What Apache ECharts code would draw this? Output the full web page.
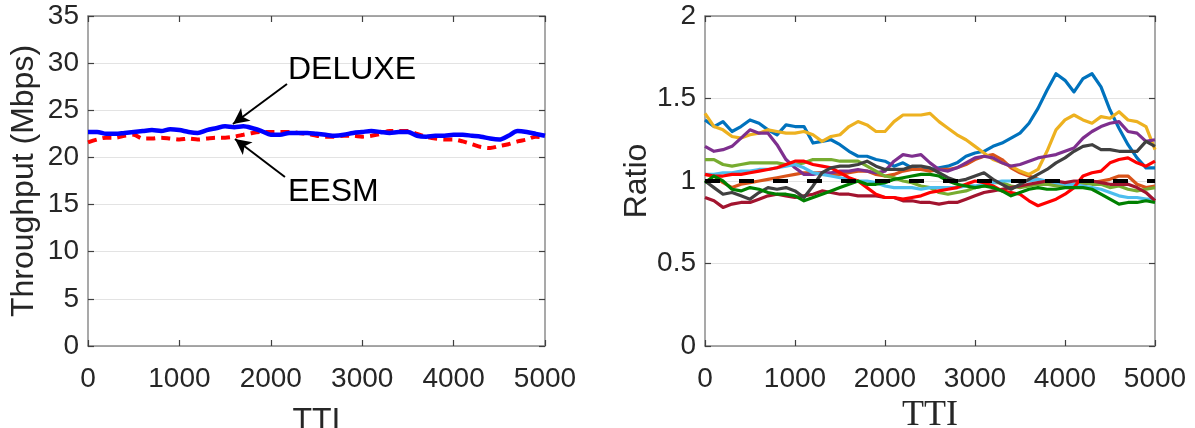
<!DOCTYPE html>
<html>
<head>
<meta charset="utf-8">
<script src="https://cdn.jsdelivr.net/npm/echarts@6/dist/echarts.min.js"></script>
<style>
  html, body { margin: 0; padding: 0; background: #ffffff; }
  #chart { width: 1195px; height: 428px; }
</style>
</head>
<body>
<div id="chart"></div>
<script>
// Sample positions (TTI) shared by every curve
const tti = [0,100,200,300,400,500,600,700,800,900,1000,1100,1200,1300,1400,1500,1600,1700,1800,1900,
  2000,2100,2200,2300,2400,2500,2600,2700,2800,2900,3000,3100,3200,3300,3400,3500,3600,3700,3800,3900,
  4000,4100,4200,4300,4400,4500,4600,4700,4800,4900,5000];

// Left panel: throughput in Mbps
const deluxe = [22.7,22.7,22.5,22.5,22.6,22.7,22.8,22.9,22.8,23.0,22.9,22.7,22.6,22.9,23.1,23.3,23.2,23.3,23.1,22.8,
  22.4,22.4,22.6,22.6,22.6,22.5,22.4,22.3,22.4,22.6,22.7,22.8,22.7,22.6,22.7,22.7,22.3,22.2,22.3,22.3,
  22.4,22.4,22.3,22.2,22.0,21.9,22.3,22.8,22.7,22.5,22.3];
const eesm = [21.6,21.9,22.1,22.1,22.3,22.4,22.0,22.0,22.1,22.0,21.9,22.0,21.9,22.0,22.1,22.1,22.2,22.4,22.6,22.7,
  22.7,22.7,22.7,22.6,22.5,22.3,22.2,22.2,22.3,22.3,22.2,22.3,22.5,22.8,22.8,22.8,22.5,22.2,22.0,21.9,
  21.9,21.7,21.4,21.1,21.0,21.2,21.4,21.7,21.9,22.2,22.1];

// Right panel: per-user throughput ratio
const ratioBlue = [1.37,1.33,1.36,1.30,1.33,1.37,1.35,1.31,1.28,1.34,1.33,1.33,1.23,1.24,1.25,1.22,1.18,1.15,1.15,1.13,
  1.12,1.09,1.11,1.08,1.07,1.07,1.08,1.09,1.11,1.15,1.17,1.18,1.21,1.23,1.26,1.29,1.35,1.44,1.55,1.65,
  1.61,1.54,1.62,1.65,1.57,1.43,1.32,1.22,1.14,1.08,1.08];
const ratioOrange = [1.04,1.03,0.99,0.96,0.98,0.99,1.00,1.01,1.02,1.03,1.04,1.05,1.05,1.05,1.04,1.04,1.05,1.06,1.06,1.04,
  1.03,1.04,1.06,1.07,1.07,1.06,1.07,1.07,1.08,1.10,1.13,1.15,1.16,1.13,1.08,1.05,1.03,1.01,0.99,0.98,
  0.98,0.98,0.98,0.99,1.00,1.01,1.03,1.03,0.98,0.96,0.97];
const ratioYellow = [1.41,1.33,1.31,1.27,1.26,1.28,1.29,1.31,1.30,1.29,1.29,1.30,1.28,1.24,1.27,1.28,1.33,1.36,1.34,1.30,
  1.30,1.36,1.40,1.40,1.40,1.41,1.36,1.32,1.28,1.25,1.21,1.17,1.13,1.11,1.09,1.06,1.04,1.07,1.18,1.31,
  1.37,1.40,1.37,1.35,1.39,1.38,1.42,1.37,1.36,1.33,1.19];
const ratioPurple = [1.21,1.18,1.19,1.21,1.26,1.31,1.29,1.29,1.22,1.13,1.08,1.04,1.04,1.05,1.05,1.06,1.06,1.07,1.06,1.05,
  1.06,1.12,1.16,1.15,1.16,1.11,1.07,1.06,1.08,1.11,1.14,1.15,1.14,1.11,1.09,1.10,1.12,1.14,1.15,1.16,
  1.18,1.20,1.26,1.30,1.33,1.35,1.36,1.30,1.29,1.24,1.25];
const ratioLightGreen = [1.13,1.13,1.10,1.09,1.10,1.11,1.11,1.11,1.11,1.10,1.10,1.11,1.13,1.13,1.13,1.12,1.12,1.12,1.09,1.06,
  1.03,1.02,1.00,0.99,0.97,0.96,0.93,0.92,0.93,0.94,0.96,0.97,0.99,0.99,0.97,0.96,0.97,0.98,0.98,0.97,
  0.97,0.98,0.99,0.98,0.98,0.96,0.97,0.95,0.94,0.95,0.96];
const ratioLightBlue = [1.04,1.04,1.05,1.05,1.06,1.06,1.07,1.07,1.08,1.09,1.10,1.08,1.05,1.04,1.03,1.02,1.01,1.00,1.00,0.99,
  0.97,0.96,0.96,0.96,0.95,0.96,0.96,0.96,0.96,0.97,0.97,0.98,0.99,1.00,1.00,1.00,1.00,1.01,1.00,0.99,
  0.98,0.98,0.97,0.96,0.95,0.93,0.91,0.90,0.90,0.89,0.89];
const ratioMaroon = [0.90,0.88,0.84,0.86,0.87,0.87,0.89,0.91,0.92,0.91,0.90,0.91,0.92,0.94,0.93,0.92,0.92,0.91,0.91,0.91,
  0.90,0.90,0.88,0.88,0.87,0.87,0.86,0.87,0.87,0.89,0.91,0.93,0.94,0.95,0.96,0.97,0.98,0.99,1.00,1.00,
  0.99,1.00,1.00,1.00,0.99,0.98,0.98,0.98,0.96,0.93,0.88];
const ratioRed = [1.04,1.03,1.03,1.04,1.04,1.05,1.06,1.07,1.08,1.10,1.12,1.12,1.10,1.09,1.08,1.05,1.02,1.00,0.96,0.92,
  0.90,0.90,0.89,0.90,0.91,0.93,0.94,0.95,0.96,0.98,1.00,0.99,0.97,0.94,0.93,0.92,0.88,0.85,0.87,0.89,
  0.92,0.96,1.03,1.05,1.06,1.11,1.13,1.14,1.11,1.09,1.12];
const ratioGray = [1.00,0.96,0.92,0.93,0.91,0.89,0.93,0.96,0.95,0.96,0.94,0.90,0.97,1.05,1.08,1.09,1.09,1.10,1.12,1.09,
  1.07,1.07,1.07,1.09,1.09,1.08,1.05,1.02,1.00,1.01,1.03,1.05,1.01,0.98,0.95,0.98,1.01,1.04,1.07,1.11,
  1.14,1.18,1.21,1.22,1.19,1.19,1.18,1.18,1.18,1.24,1.21];
const ratioGreen = [0.99,1.03,1.00,0.95,0.94,0.96,0.95,0.93,0.92,0.92,0.91,0.88,0.90,0.92,0.94,0.96,0.98,1.00,0.98,0.98,
  0.99,1.01,1.02,1.03,1.04,1.04,1.03,1.00,0.98,0.97,0.96,0.97,0.96,0.94,0.91,0.93,0.95,0.96,0.95,0.95,
  0.96,0.96,0.96,0.95,0.92,0.89,0.86,0.87,0.87,0.88,0.87];
const reference = [1.00,1.00];
const referenceTti = [0,5000];

const ratioSeries = [
  { values: ratioBlue, color: '#0072BD' },
  { values: ratioOrange, color: '#D95319' },
  { values: ratioYellow, color: '#EDB120' },
  { values: ratioPurple, color: '#7E2F8E' },
  { values: ratioLightGreen, color: '#77AC30' },
  { values: ratioLightBlue, color: '#4DBEEE' },
  { values: ratioMaroon, color: '#A2142F' },
  { values: ratioRed, color: '#FF0000' },
  { values: ratioGray, color: '#404040' },
  { values: ratioGreen, color: '#008000' }
];

const xTicks = ['0','1000','2000','3000','4000','5000'];

const pairs = (xs, ys) => xs.map((x, i) => [x, ys[i]]);

const SANS = '"Liberation Sans", Arial, Helvetica, sans-serif';
const SERIF = '"Liberation Serif", "Times New Roman", serif';
const TICK_COLOR = '#262626';
const BOX_COLOR = '#8c8c8c';

function xAxisMain(gridIndex, name, nameFont, nameGap) {
  return {
    type: 'value', gridIndex, min: 0, max: 5000, interval: 1000,
    name, nameLocation: 'middle', nameGap,
    nameTextStyle: { fontFamily: nameFont, fontSize: nameFont === SERIF ? 36 : 32, color: TICK_COLOR },
    axisLine: { show: true, onZero: false, lineStyle: { color: BOX_COLOR, width: 1.5 } },
    axisTick: { show: true, inside: true, length: 6, lineStyle: { color: '#404040', width: 1.2 } },
    axisLabel: { fontFamily: SANS, fontSize: 28, color: TICK_COLOR, margin: 19,
      formatter: v => xTicks[Math.round(v / 1000)] },
    splitLine: { show: false }
  };
}
function xAxisMirror(gridIndex) {
  return {
    type: 'value', gridIndex, min: 0, max: 5000, interval: 1000, position: 'top',
    axisLine: { show: true, onZero: false, lineStyle: { color: BOX_COLOR, width: 1.5 } },
    axisTick: { show: true, inside: true, length: 6, lineStyle: { color: '#404040', width: 1.2 } },
    axisLabel: { show: false }, splitLine: { show: false }
  };
}
function yAxisMain(gridIndex, max, interval, name, nameGap, fmt) {
  return {
    type: 'value', gridIndex, min: 0, max, interval,
    name, nameLocation: 'middle', nameGap, nameRotate: 90,
    nameTextStyle: { fontFamily: SANS, fontSize: 32, color: TICK_COLOR },
    axisLine: { show: true, onZero: false, lineStyle: { color: BOX_COLOR, width: 1.5 } },
    axisTick: { show: true, inside: true, length: 6, lineStyle: { color: '#404040', width: 1.2 } },
    axisLabel: { fontFamily: SANS, fontSize: 28, color: TICK_COLOR, margin: 9, formatter: fmt },
    splitLine: { show: true, lineStyle: { color: '#e3e3e3', width: 1 } }
  };
}
function yAxisMirror(gridIndex, max, interval) {
  return {
    type: 'value', gridIndex, min: 0, max, interval, position: 'right',
    axisLine: { show: true, onZero: false, lineStyle: { color: BOX_COLOR, width: 1.5 } },
    axisTick: { show: true, inside: true, length: 6, lineStyle: { color: '#404040', width: 1.2 } },
    axisLabel: { show: false }, splitLine: { show: false }
  };
}

const arrowLine = (from, to) => [
  { coord: from, symbol: 'none' },
  { coord: to, symbol: 'arrow', symbolSize: [12, 16] }
];

const series = [
  {
    type: 'line', xAxisIndex: 0, yAxisIndex: 0, name: 'DELUXE',
    data: pairs(tti, deluxe), showSymbol: false, smooth: 0.3, z: 3,
    lineStyle: { color: '#0000FF', width: 4.5 },
    markLine: {
      silent: true, animation: false, label: { show: false },
      lineStyle: { color: '#000000', width: 2, type: 'solid' },
      data: [
        arrowLine([2177, 27.79], [1586, 23.55]),
        arrowLine([2155, 17.92], [1608, 21.95])
      ]
    },
    markPoint: {
      silent: true, animation: false, symbolSize: 0,
      label: { show: true, position: 'inside', align: 'left', verticalAlign: 'middle',
        fontFamily: SANS, fontSize: 32, color: '#000000' },
      data: [
        { coord: [2188, 29.27], value: 'DELUXE', label: { formatter: 'DELUXE' } },
        { coord: [2188, 16.33], value: 'EESM', label: { formatter: 'EESM' } }
      ]
    }
  },
  {
    type: 'line', xAxisIndex: 0, yAxisIndex: 0, name: 'EESM',
    data: pairs(tti, eesm), showSymbol: false, smooth: 0.3, z: 2,
    lineStyle: { color: '#FF0000', width: 4, type: [9, 6] }
  }
];

ratioSeries.forEach((s, i) => {
  series.push({
    type: 'line', xAxisIndex: 2, yAxisIndex: 2,
    data: pairs(tti, s.values), showSymbol: false, smooth: false, z: 2 + i * 0.01,
    lineStyle: { color: s.color, width: 3.2, join: 'round' }
  });
});
series.push({
  type: 'line', xAxisIndex: 2, yAxisIndex: 2,
  data: pairs(referenceTti, reference), showSymbol: false, z: 3,
  lineStyle: { color: '#000000', width: 4, type: [15, 19] }
});

const chart = echarts.init(document.getElementById('chart'), null, { renderer: 'canvas' });
chart.setOption({
  animation: false,
  backgroundColor: '#ffffff',
  grid: [
    { left: 88, top: 16, width: 457, height: 330, containLabel: false, outerBoundsMode: 'none' },
    { left: 705, top: 16, width: 450, height: 330, containLabel: false, outerBoundsMode: 'none' }
  ],
  xAxis: [
    xAxisMain(0, 'TTI', SANS, 59),
    xAxisMirror(0),
    xAxisMain(1, 'TTI', SERIF, 44),
    xAxisMirror(1)
  ],
  yAxis: [
    yAxisMain(0, 35, 5, 'Throughput (Mbps)', 48, v => String(v)),
    yAxisMirror(0, 35, 5),
    yAxisMain(1, 2, 0.5, 'Ratio', 50, v => String(v)),
    yAxisMirror(1, 2, 0.5)
  ],
  series
});
</script>
</body>
</html>
